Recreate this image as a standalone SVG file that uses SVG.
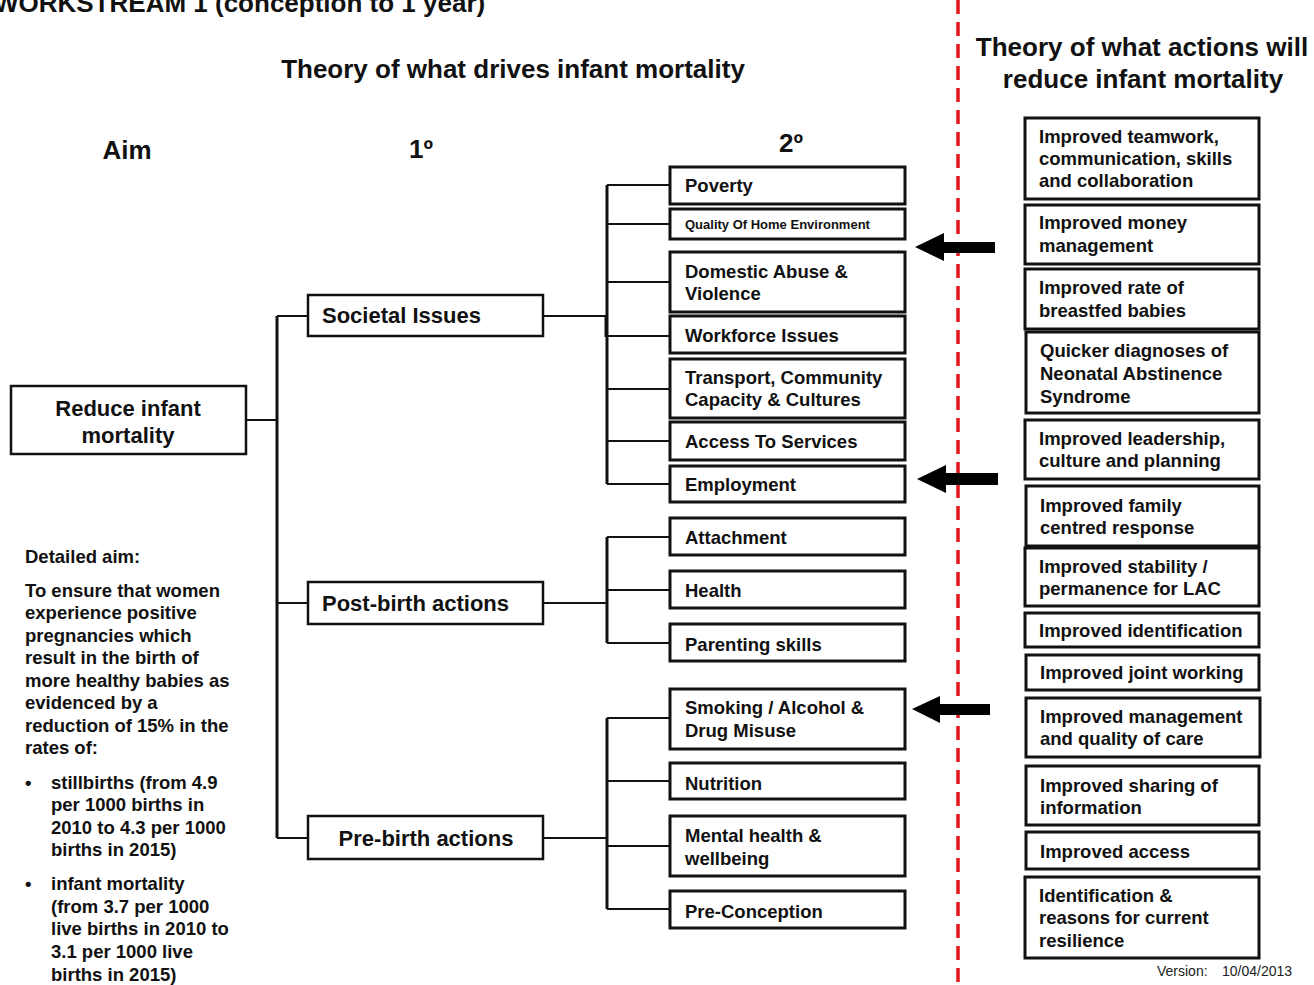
<svg xmlns="http://www.w3.org/2000/svg" width="1314" height="985" viewBox="0 0 1314 985">
  <defs>
    <style>
      text { font-family: "Liberation Sans", Arial, sans-serif; font-weight: bold; fill: #111; }
      .head { font-size: 26px; }
      .aim { font-size: 22px; }
      .lbl { font-size: 18.5px; }
      .small { font-size: 13px; }
      .note { font-size: 18.5px; }
      .ver { font-size: 14px; font-weight: normal; fill: #222; }
      .box { fill: #fff; stroke: #111; stroke-width: 2.5; }
      .box2 { fill: #fff; stroke: #111; stroke-width: 3; }
      .wire { fill: none; stroke: #111; stroke-width: 2; }
      .trunk { fill: none; stroke: #111; stroke-width: 3; }
      .divider { stroke: #e3161b; stroke-width: 3.5; stroke-dasharray: 14 8; }
      .arrow { fill: #000; }
    </style>
  </defs>

  <rect width="1314" height="985" fill="#fff"/>

  <!-- headings -->
  <text class="head" x="-6" y="12">WORKSTREAM 1 (conception to 1 year)</text>
  <text class="head" x="513" y="78" text-anchor="middle">Theory of what drives infant mortality</text>
  <text class="head" x="1142" y="56" text-anchor="middle">Theory of what actions will</text>
  <text class="head" x="1143" y="88" text-anchor="middle">reduce infant mortality</text>
  <text class="head" x="127" y="159" text-anchor="middle">Aim</text>
  <text class="head" x="421" y="158" text-anchor="middle">1º</text>
  <text class="head" x="791" y="152" text-anchor="middle">2º</text>

  <!-- separator between drivers and actions -->
  <line class="divider" x1="958" y1="0" x2="958" y2="985"/>

  <!-- connectors -->
  <g id="connectors">
    <path class="wire" d="M246 420 H277"/>
    <path class="trunk" d="M277 316 V838"/>
    <path class="wire" d="M277 316 H308 M277 603 H308 M277 838 H308"/>
    <!-- societal issues branch -->
    <path class="wire" d="M543 316 H607"/>
    <path class="trunk" d="M607 185 V484"/>
    <path class="trunk" d="M606 316 V337"/>
    <path class="wire" d="M607 185 H670 M607 224 H670 M607 282 H670 M607 336 H670 M607 389 H670 M607 441 H670 M607 484 H670"/>
    <!-- post-birth branch -->
    <path class="wire" d="M543 603 H607"/>
    <path class="trunk" d="M607 537 V643"/>
    <path class="wire" d="M607 537 H670 M607 590 H670 M607 643 H670"/>
    <!-- pre-birth branch -->
    <path class="wire" d="M543 838 H607"/>
    <path class="trunk" d="M607 718 V909"/>
    <path class="wire" d="M607 718 H670 M607 781 H670 M607 846 H670 M607 909 H670"/>
    <!-- action arrows -->
    <path class="arrow" d="M915 247 L944 233 V242 H995 V253 H944 V261 Z"/>
    <path class="arrow" d="M917 479 L946 465 V473 H998 V485 H946 V493 Z"/>
    <path class="arrow" d="M912 709 L940 696 V704 H990 V715 H940 V723 Z"/>
  </g>

  <!-- aim -->
  <g id="aim">
    <rect class="box" x="11" y="386" width="235" height="68"/>
    <text class="aim" x="128" y="416" text-anchor="middle">Reduce infant</text>
    <text class="aim" x="128" y="443" text-anchor="middle">mortality</text>
  </g>

  <!-- primary drivers -->
  <g id="societal-issues">
    <rect class="box" x="308" y="295" width="235" height="41"/>
    <text class="aim" x="322" y="323">Societal Issues</text>
  </g>
  <g id="post-birth">
    <rect class="box" x="308" y="582" width="235" height="42"/>
    <text class="aim" x="322" y="611">Post-birth actions</text>
  </g>
  <g id="pre-birth">
    <rect class="box" x="308" y="816" width="235" height="43"/>
    <text class="aim" x="426" y="846" text-anchor="middle">Pre-birth actions</text>
  </g>

  <!-- secondary drivers -->
  <g id="poverty">
    <rect class="box2" x="670" y="167" width="235" height="37"/>
    <text class="lbl" x="685" y="192">Poverty</text>
  </g>
  <g id="home-environment">
    <rect class="box2" x="670" y="209" width="235" height="30"/>
    <text class="small" x="685" y="229">Quality Of Home Environment</text>
  </g>
  <g id="domestic-abuse">
    <rect class="box2" x="670" y="252" width="235" height="60"/>
    <text class="lbl" x="685" y="278">Domestic Abuse &amp;</text>
    <text class="lbl" x="685" y="300">Violence</text>
  </g>
  <g id="workforce">
    <rect class="box2" x="670" y="316" width="235" height="37"/>
    <text class="lbl" x="685" y="342">Workforce Issues</text>
  </g>
  <g id="transport">
    <rect class="box2" x="670" y="359" width="235" height="59"/>
    <text class="lbl" x="685" y="384">Transport, Community</text>
    <text class="lbl" x="685" y="406">Capacity &amp; Cultures</text>
  </g>
  <g id="access-services">
    <rect class="box2" x="670" y="422" width="235" height="38"/>
    <text class="lbl" x="685" y="448">Access To Services</text>
  </g>
  <g id="employment">
    <rect class="box2" x="670" y="466" width="235" height="36"/>
    <text class="lbl" x="685" y="491">Employment</text>
  </g>
  <g id="attachment">
    <rect class="box2" x="670" y="518" width="235" height="37"/>
    <text class="lbl" x="685" y="544">Attachment</text>
  </g>
  <g id="health">
    <rect class="box2" x="670" y="571" width="235" height="37"/>
    <text class="lbl" x="685" y="597">Health</text>
  </g>
  <g id="parenting">
    <rect class="box2" x="670" y="624" width="235" height="37"/>
    <text class="lbl" x="685" y="651">Parenting skills</text>
  </g>
  <g id="smoking">
    <rect class="box2" x="670" y="689" width="235" height="60"/>
    <text class="lbl" x="685" y="714">Smoking / Alcohol &amp;</text>
    <text class="lbl" x="685" y="737">Drug Misuse</text>
  </g>
  <g id="nutrition">
    <rect class="box2" x="670" y="763" width="235" height="36"/>
    <text class="lbl" x="685" y="790">Nutrition</text>
  </g>
  <g id="mental-health">
    <rect class="box2" x="670" y="816" width="235" height="60"/>
    <text class="lbl" x="685" y="842">Mental health &amp;</text>
    <text class="lbl" x="685" y="865">wellbeing</text>
  </g>
  <g id="pre-conception">
    <rect class="box2" x="670" y="891" width="235" height="37"/>
    <text class="lbl" x="685" y="918">Pre-Conception</text>
  </g>

  <!-- change actions -->
  <g id="teamwork">
    <rect class="box2" x="1025" y="118" width="234" height="81"/>
    <text class="lbl" x="1039" y="143">Improved teamwork,</text>
    <text class="lbl" x="1039" y="165">communication, skills</text>
    <text class="lbl" x="1039" y="187">and collaboration</text>
  </g>
  <g id="money">
    <rect class="box2" x="1025" y="205" width="234" height="59"/>
    <text class="lbl" x="1039" y="229">Improved money</text>
    <text class="lbl" x="1039" y="252">management</text>
  </g>
  <g id="breastfed">
    <rect class="box2" x="1025" y="269" width="234" height="60"/>
    <text class="lbl" x="1039" y="294">Improved rate of</text>
    <text class="lbl" x="1039" y="317">breastfed babies</text>
  </g>
  <g id="nas">
    <rect class="box2" x="1026" y="332" width="233" height="81"/>
    <text class="lbl" x="1040" y="357">Quicker diagnoses of</text>
    <text class="lbl" x="1040" y="380">Neonatal Abstinence</text>
    <text class="lbl" x="1040" y="403">Syndrome</text>
  </g>
  <g id="leadership">
    <rect class="box2" x="1025" y="420" width="234" height="59"/>
    <text class="lbl" x="1039" y="445">Improved leadership,</text>
    <text class="lbl" x="1039" y="467">culture and planning</text>
  </g>
  <g id="family">
    <rect class="box2" x="1026" y="486" width="233" height="60"/>
    <text class="lbl" x="1040" y="512">Improved family</text>
    <text class="lbl" x="1040" y="534">centred response</text>
  </g>
  <g id="stability">
    <rect class="box2" x="1025" y="548" width="234" height="58"/>
    <text class="lbl" x="1039" y="573">Improved stability /</text>
    <text class="lbl" x="1039" y="595">permanence for LAC</text>
  </g>
  <g id="identification">
    <rect class="box2" x="1025" y="613" width="234" height="34"/>
    <text class="lbl" x="1039" y="637">Improved identification</text>
  </g>
  <g id="joint-working">
    <rect class="box2" x="1026" y="655" width="233" height="35"/>
    <text class="lbl" x="1040" y="679">Improved joint working</text>
  </g>
  <g id="management">
    <rect class="box2" x="1026" y="698" width="234" height="59"/>
    <text class="lbl" x="1040" y="723">Improved management</text>
    <text class="lbl" x="1040" y="745">and quality of care</text>
  </g>
  <g id="sharing">
    <rect class="box2" x="1026" y="766" width="233" height="59"/>
    <text class="lbl" x="1040" y="792">Improved sharing of</text>
    <text class="lbl" x="1040" y="814">information</text>
  </g>
  <g id="access">
    <rect class="box2" x="1026" y="832" width="233" height="37"/>
    <text class="lbl" x="1040" y="858">Improved access</text>
  </g>
  <g id="resilience">
    <rect class="box2" x="1025" y="877" width="234" height="81"/>
    <text class="lbl" x="1039" y="902">Identification &amp;</text>
    <text class="lbl" x="1039" y="924">reasons for current</text>
    <text class="lbl" x="1039" y="947">resilience</text>
  </g>

  <text class="ver" x="1157" y="976">Version:<tspan x="1222">10/04/2013</tspan></text>

  <!-- detailed aim -->
  <g id="detailed-aim">
    <text class="note" x="25" y="563">Detailed aim:</text>
    <text class="note" x="25" y="597">To ensure that women</text>
    <text class="note" x="25" y="619">experience positive</text>
    <text class="note" x="25" y="642">pregnancies which</text>
    <text class="note" x="25" y="664">result in the birth of</text>
    <text class="note" x="25" y="687">more healthy babies as</text>
    <text class="note" x="25" y="709">evidenced by a</text>
    <text class="note" x="25" y="732">reduction of 15% in the</text>
    <text class="note" x="25" y="754">rates of:</text>
    <text class="note" x="25" y="789">•</text>
    <text class="note" x="51" y="789">stillbirths (from 4.9</text>
    <text class="note" x="51" y="811">per 1000 births in</text>
    <text class="note" x="51" y="834">2010 to 4.3 per 1000</text>
    <text class="note" x="51" y="856">births in 2015)</text>
    <text class="note" x="25" y="890">•</text>
    <text class="note" x="51" y="890">infant mortality</text>
    <text class="note" x="51" y="913">(from 3.7 per 1000</text>
    <text class="note" x="51" y="935">live births in 2010 to</text>
    <text class="note" x="51" y="958">3.1 per 1000 live</text>
    <text class="note" x="51" y="981">births in 2015)</text>
  </g>
</svg>
